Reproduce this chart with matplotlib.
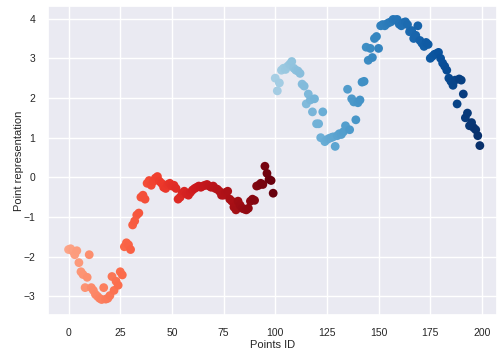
import numpy as np
import matplotlib
matplotlib.use("Agg")
import matplotlib.pyplot as plt
import seaborn as sns

# y-values of the first 100 points (red group)
red_vals = [
    -1.82, -1.80, -1.86, -1.95, -1.85, -2.15, -2.38, -2.45, -2.78, -2.52,
    -1.95, -2.78, -2.85, -2.95, -3.00, -3.05, -3.08, -2.78, -3.07, -3.05,
    -2.98, -2.50, -2.85, -2.62, -2.72, -2.38, -2.46, -1.75, -1.65, -1.70,
    -1.82, -1.20, -1.10, -0.95, -0.90, -0.50, -0.45, -0.55, -0.15, -0.08,
    -0.20, -0.10, -0.02, 0.02, -0.10, -0.15, -0.25, -0.28, -0.18, -0.15,
    -0.22, -0.20, -0.28, -0.55, -0.50, -0.40, -0.35, -0.42, -0.45, -0.38,
    -0.32, -0.28, -0.25, -0.22, -0.25, -0.22, -0.20, -0.18, -0.22, -0.25,
    -0.22, -0.28, -0.30, -0.35, -0.45, -0.45, -0.38, -0.35, -0.55, -0.60,
    -0.75, -0.82, -0.60, -0.70, -0.78, -0.80, -0.82, -0.78, -0.60, -0.55,
    -0.58, -0.22, -0.20, -0.15, -0.18, 0.28, 0.10, -0.05, -0.08, -0.40,
]

# y-values of the last 100 points (blue group)
blue_vals = [
    2.50, 2.18, 2.38, 2.70, 2.75, 2.72, 2.80, 2.85, 2.92, 2.75,
    2.70, 2.68, 2.62, 2.35, 2.30, 1.85, 2.10, 1.95, 1.65, 1.98,
    1.35, 1.35, 1.00, 1.65, 0.90, 0.95, 0.98, 1.00, 1.02, 0.78,
    1.05, 1.10, 1.08, 1.15, 1.30, 2.22, 1.20, 1.98, 1.90, 1.45,
    1.88, 1.95, 2.40, 2.42, 3.28, 2.95, 3.25, 3.02, 3.50, 3.55,
    3.25, 3.82, 3.85, 3.82, 3.87, 3.90, 3.92, 3.98, 3.97, 3.98,
    3.86, 3.82, 3.90, 3.92, 3.85, 3.67, 3.70, 3.50, 3.58, 3.82,
    3.45, 3.38, 3.30, 3.40, 3.35, 3.00, 3.05, 3.10, 3.12, 3.15,
    3.00, 2.88, 2.80, 2.70, 2.50, 2.42, 2.32, 2.45, 1.85, 2.48,
    2.45, 2.10, 1.50, 1.62, 1.30, 1.38, 1.25, 1.20, 1.05, 0.80,
]

xticks = [0, 25, 50, 75, 100, 125, 150, 175, 200]
yticks = [-3, -2, -1, 0, 1, 2, 3, 4]
xlabel = "Points ID"
ylabel = "Point representation"

sns.set_theme(style="darkgrid")
plt.rcParams['font.family'] = ['Liberation Sans', 'DejaVu Sans']

fig = plt.figure(figsize=(4.97, 3.5), dpi=100)
ax = fig.add_axes([48 / 497, 0.10, 1 - 48 / 497, 0.883])

n_r = len(red_vals)
n_b = len(blue_vals)
x_r = np.arange(n_r)
x_b = np.arange(n_r, n_r + n_b)

col_r = plt.get_cmap("Reds")(np.linspace(0.32, 1.0, n_r))
col_b = plt.get_cmap("Blues")(np.linspace(0.35, 1.0, n_b))

ax.scatter(x_r, red_vals, c=col_r, s=40, linewidths=0, zorder=3)
ax.scatter(x_b, blue_vals, c=col_b, s=40, linewidths=0, zorder=3)

ax.set_xlim(-9.95, 207.3)
ax.set_ylim(-3.47, 4.32)
ax.set_xticks(xticks)
ax.set_yticks(yticks)
ax.tick_params(labelsize=7.5, pad=3)
ax.set_xlabel(xlabel, fontsize=8, labelpad=2)
ax.set_ylabel(ylabel, fontsize=8)
ax.yaxis.set_label_coords(-0.053, 0.5)

fig.savefig("out.png", dpi=100)
